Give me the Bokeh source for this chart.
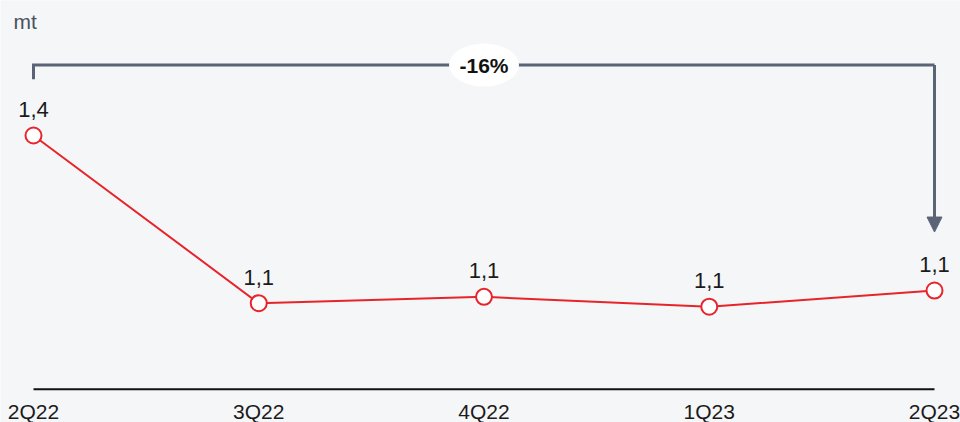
from bokeh.plotting import figure
from bokeh.models import Range1d, Label, Arrow, NormalHead
from bokeh.embed import file_html
from bokeh.resources import INLINE
from bokeh.core.properties import value

# ---- data ----
quarters = ["2Q22", "3Q22", "4Q22", "1Q23", "2Q23"]
volumes = [1.36, 1.122, 1.131, 1.117, 1.14]
unit_label = "mt"
baseline_value = 1.0

# ---- styles ----
BG = "#f5f6f8"
RED = "#e8242b"
SLATE = "#5b6377"
FONT = "Liberation Sans"

xs = list(range(len(quarters)))

p = figure(width=960, height=422, output_backend="svg", toolbar_location=None,
           x_range=Range1d(-0.1465, 4.1154), y_range=Range1d(0.9527, 1.5516),
           min_border_left=0, min_border_right=0, min_border_top=0, min_border_bottom=0,
           background_fill_color=BG, border_fill_color=BG, outline_line_color=None)
p.axis.visible = False
p.grid.visible = False

# baseline + category labels
p.segment(x0=[xs[0]], y0=[baseline_value], x1=[xs[-1]], y1=[baseline_value],
          line_color="#111111", line_width=2)
p.text(xs, [baseline_value] * len(xs), text=quarters, y_offset=11, text_align="center",
       text_baseline="top", text_font=value(FONT), text_font_size="21px", text_color="#1b1b1b")

# series
p.line(xs, volumes, line_color=RED, line_width=2)
p.scatter(xs, volumes, size=16, fill_color="white", line_color=RED, line_width=2)
labels = [f"{v:.1f}".replace(".", ",") for v in volumes]
p.text(xs, volumes, text=labels, y_offset=-26, text_align="center", text_baseline="alphabetic",
       text_font=value(FONT), text_font_size="22px", text_color="#1b1b1b")

# bracket with change
top = max(volumes) + 0.1
tick = 0.02
arrow_end = volumes[-1] + 0.083
p.line([xs[0], xs[0], xs[-1]], [top - tick, top, top], line_color=SLATE, line_width=3,
       line_join="miter")
p.add_layout(Arrow(x_start=xs[-1], y_start=top, x_end=xs[-1], y_end=arrow_end,
                   line_color=SLATE, line_width=3,
                   end=NormalHead(size=15, fill_color=SLATE, line_color=SLATE)))
mid = (xs[0] + xs[-1]) / 2
change = round((volumes[-1] / volumes[0] - 1) * 100)
p.ellipse(x=[mid], y=[top], width=70, height=43, width_units="screen", height_units="screen",
          fill_color="white", line_color=None)
p.text([mid], [top], text=[f"{change}%"], text_align="center", text_baseline="middle",
       text_font=value(FONT), text_font_size="21px", text_font_style="bold", text_color="#111111")

p.add_layout(Label(x=13, y=401, x_units="screen", y_units="screen", text=unit_label,
                   text_baseline="alphabetic", text_font=FONT, text_font_size="21px",
                   text_color="#4b5160"))

open("out.html", "w").write(file_html(p, INLINE))
